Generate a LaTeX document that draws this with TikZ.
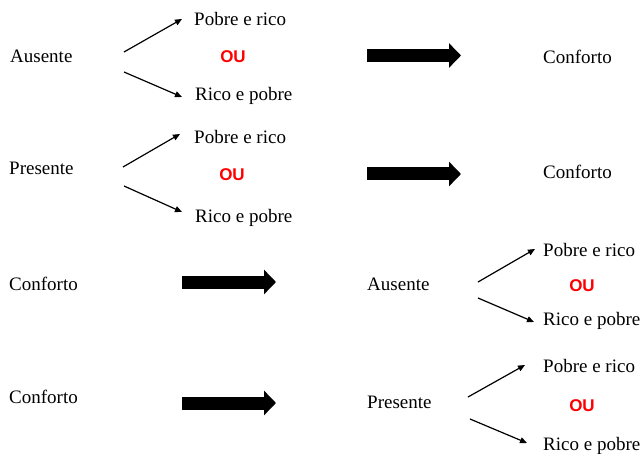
\documentclass[tikz,border=0pt]{standalone}
\usepackage{fontspec}
\setmainfont{Liberation Serif}
\newfontfamily\oufont{Liberation Sans}
\usetikzlibrary{arrows.meta}
\begin{document}
\begin{tikzpicture}[x=1pt,y=-1pt,
  every node/.style={inner sep=0pt,font=\fontsize{19}{22}\selectfont},
  word/.style={anchor=base west},
  ou/.style={font=\oufont\bfseries\fontsize{17}{19}\selectfont,text=red},
  thinarrow/.style={line width=1.2pt,-{Triangle[length=7pt,width=6pt]}},
  bigarrow/.style={line width=13pt,-{Triangle[length=12pt,width=24pt]}}]
\useasboundingbox (0,0) rectangle (642,454);
% linha 1
\node[word] (aus1) at (10,63) {Ausente};
\node[word] (pr1) at (194,26) {Pobre e rico};
\node[ou] (ou1) at (233,57) {OU};
\node[word] (rp1) at (195,101) {Rico e pobre};
\node[word] (conf1) at (543,64) {Conforto};
\coordinate (a1) at (124,52); \coordinate (b1) at (182,19);
\coordinate (c1) at (124,72); \coordinate (d1) at (182,97);
\coordinate (s1) at (367,55.5); \coordinate (e1) at (461,55.5);
\draw[thinarrow] (a1) -- (b1);
\draw[thinarrow] (c1) -- (d1);
\draw[bigarrow] (s1) -- (e1);
% linha 2
\node[word] (pre2) at (9,175) {Presente};
\node[word] (pr2) at (194,144) {Pobre e rico};
\node[ou] (ou2) at (232,175) {OU};
\node[word] (rp2) at (195,223) {Rico e pobre};
\node[word] (conf2) at (543,179) {Conforto};
\coordinate (a2) at (123,167); \coordinate (b2) at (180,134);
\coordinate (c2) at (124,186); \coordinate (d2) at (182,212);
\coordinate (s2) at (367,174); \coordinate (e2) at (461,174);
\draw[thinarrow] (a2) -- (b2);
\draw[thinarrow] (c2) -- (d2);
\draw[bigarrow] (s2) -- (e2);
% linha 3
\node[word] (conf3) at (9,290) {Conforto};
\node[word] (aus3) at (367,290) {Ausente};
\node[word] (pr3) at (543,256) {Pobre e rico};
\node[ou] (ou3) at (582,286) {OU};
\node[word] (rp3) at (543,325) {Rico e pobre};
\coordinate (a3) at (478,282); \coordinate (b3) at (535,249);
\coordinate (c3) at (478,298); \coordinate (d3) at (534,322);
\coordinate (s3) at (182,282); \coordinate (e3) at (276,282);
\draw[thinarrow] (a3) -- (b3);
\draw[thinarrow] (c3) -- (d3);
\draw[bigarrow] (s3) -- (e3);
% linha 4
\node[word] (conf4) at (9,403) {Conforto};
\node[word] (pre4) at (367,408) {Presente};
\node[word] (pr4) at (543,372) {Pobre e rico};
\node[ou] (ou4) at (582,406) {OU};
\node[word] (rp4) at (543,450) {Rico e pobre};
\coordinate (a4) at (468,397); \coordinate (b4) at (525,365);
\coordinate (c4) at (470,419); \coordinate (d4) at (527,443);
\coordinate (s4) at (182,403); \coordinate (e4) at (276,403);
\draw[thinarrow] (a4) -- (b4);
\draw[thinarrow] (c4) -- (d4);
\draw[bigarrow] (s4) -- (e4);
\end{tikzpicture}
\end{document}
